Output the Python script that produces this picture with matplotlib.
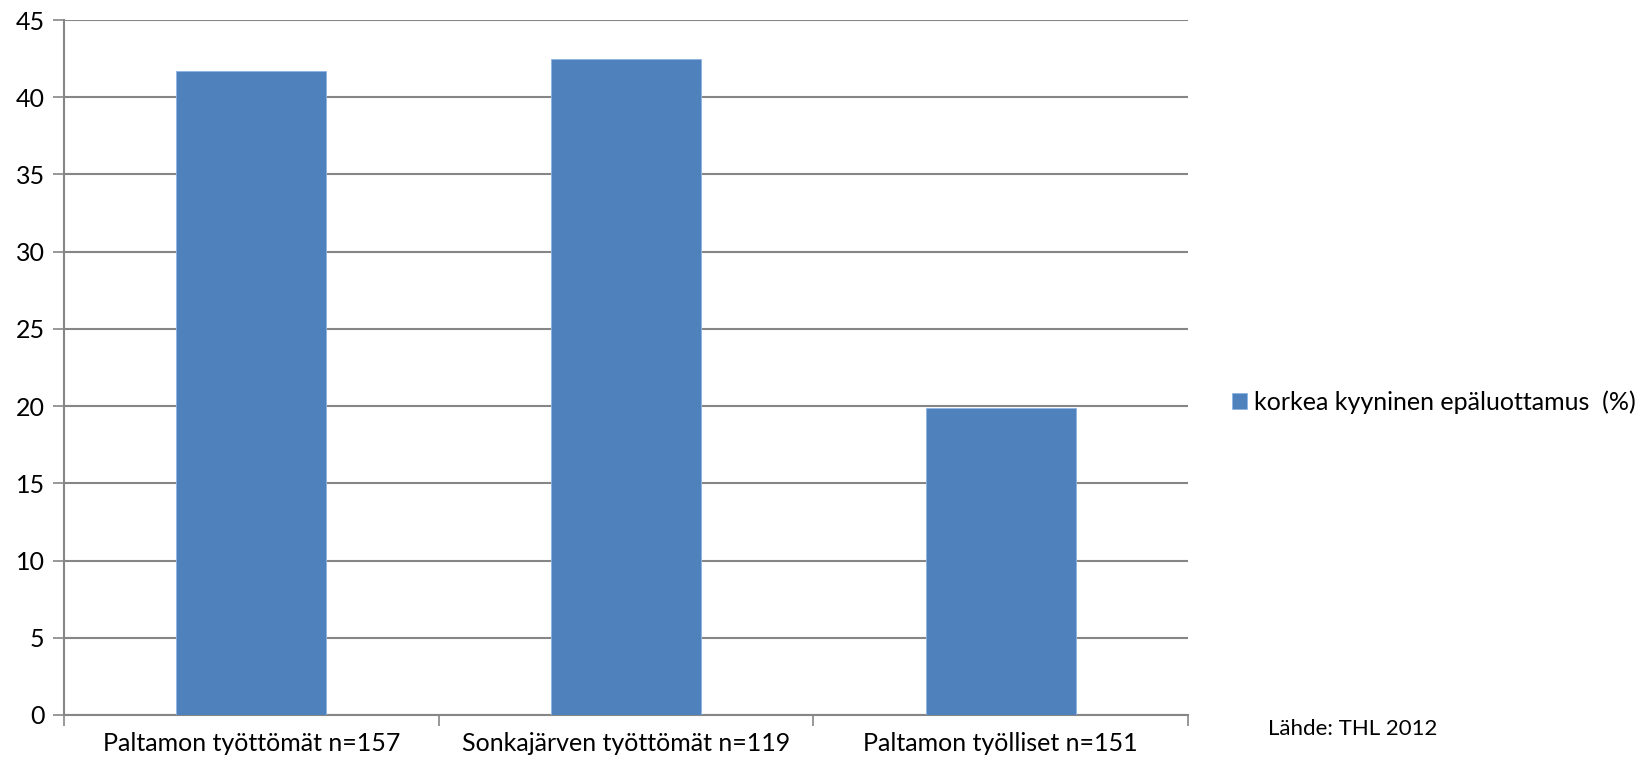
import matplotlib.pyplot as plt
import numpy as np

categories = ["Paltamon työttömät n=157", "Sonkajärven työttömät n=119", "Paltamon työlliset n=151"]
values = [41.7, 42.5, 19.9]
series_name = "korkea kyyninen epäluottamus  (%)"
source_note = "Lähde: THL 2012"
y_ticks = [0, 5, 10, 15, 20, 25, 30, 35, 40, 45]

plt.rcParams["font.family"] = ["Lato", "DejaVu Sans"]
grid_col = "#868686"
bar_col = "#4F81BD"

fig = plt.figure(figsize=(16.43, 7.57), dpi=100)
ax = fig.add_axes([0.039, 0.0555, 0.684, 0.918])

x = np.arange(len(categories))
bars = ax.bar(x, values, width=0.4, color=bar_col, edgecolor="#8EB4E3", linewidth=0.6,
              label=series_name, zorder=3)

ax.set_xlim(-0.5, len(categories) - 0.5)
ax.set_ylim(0, 45)
ax.set_yticks(y_ticks)
ax.yaxis.grid(True, color=grid_col, linewidth=1.5, zorder=0)
ax.tick_params(axis="y", length=8, width=1.2, color=grid_col, labelsize=18, pad=6)

# category boundaries carry the tick marks, labels sit at the centres
ax.set_xticks(np.arange(-0.5, len(categories), 1.0))
ax.set_xticklabels([])
ax.set_xticks(x, minor=True)
ax.set_xticklabels(categories, minor=True, fontsize=18)
ax.tick_params(axis="x", which="major", length=8, width=1.2, color=grid_col)
ax.tick_params(axis="x", which="minor", length=0, pad=12)

for side in ["top", "right"]:
    ax.spines[side].set_visible(False)
for side in ["left", "bottom"]:
    ax.spines[side].set_color(grid_col)
    ax.spines[side].set_linewidth(1.5)

ax.legend(loc="center left", bbox_to_anchor=(1.03, 0.45), frameon=False, fontsize=18,
          handlelength=0.6, handleheight=0.6, handletextpad=0.3, borderaxespad=0)

fig.text(0.772, 0.037, source_note, fontsize=16, va="center", ha="left")

fig.savefig("out.png", dpi=100)
